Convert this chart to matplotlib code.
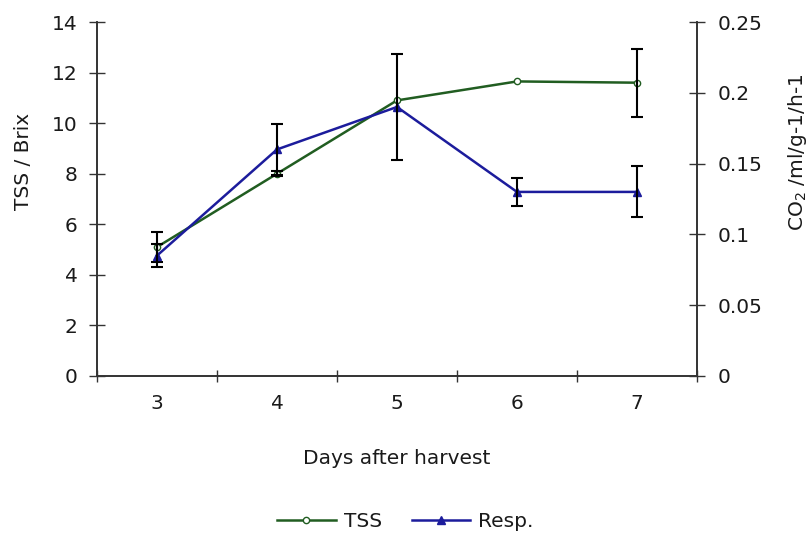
import matplotlib
matplotlib.use("Agg")
import matplotlib.pyplot as plt
import numpy as np
from matplotlib.ticker import FixedLocator

plt.rcParams["font.family"] = ["DejaVu Sans"]
plt.rcParams["mathtext.fontset"] = "dejavusans"

# data
days = [3, 4, 5, 6, 7]
tss = [5.1, 8.0, 10.9, 11.65, 11.6]
tss_err = [0.6, 0.1, 0.0, 0.0, 1.35]
resp = [0.085, 0.16, 0.19, 0.13, 0.13]
resp_err = [0.008, 0.018, 0.0375, 0.01, 0.018]

left_ticks = [0, 2, 4, 6, 8, 10, 12, 14]
right_ticks = [0, 0.05, 0.1, 0.15, 0.2, 0.25]
right_labels = ["0", "0.05", "0.1", "0.15", "0.2", "0.25"]

TXT = "#1a1a1a"
GREEN = "#215d21"
BLUE = "#1c1c9c"
FS = 14.5

fig = plt.figure(figsize=(8.11, 5.33), dpi=100)
ax = fig.add_axes([0.1196, 0.2946, 0.7398, 0.6641])
ax2 = ax.twinx()

x = np.arange(len(days))

ax.plot(x, tss, color=GREEN, lw=1.8, marker="o", ms=4.5,
        mfc="white", mec=GREEN, mew=1.0, label="TSS", zorder=3)
ax2.plot(x, resp, color=BLUE, lw=1.8, marker="^", ms=6,
         mfc=BLUE, mec=BLUE, label="Resp.", zorder=3)

# error bars only where there is a visible spread
tss_err = np.array(tss_err)
m = tss_err > 0
ax.errorbar(x[m], np.array(tss)[m], yerr=tss_err[m], fmt="none",
            ecolor="black", elinewidth=1.5, capsize=4.5, capthick=1.5, zorder=4)
ax2.errorbar(x, resp, yerr=resp_err, fmt="none",
             ecolor="black", elinewidth=1.5, capsize=4.5, capthick=1.5, zorder=4)

ax.set_xlim(-0.5, len(days) - 0.5)
ax.set_ylim(0, 14)
ax2.set_ylim(0, 0.25)

ax.set_yticks(left_ticks)
ax.set_yticklabels([str(t) for t in left_ticks])
ax2.set_yticks(right_ticks)
ax2.set_yticklabels(right_labels)

ax.set_xticks(x)
ax.set_xticklabels([str(d) for d in days])
ax.xaxis.set_minor_locator(FixedLocator(np.arange(-0.5, len(days), 1.0)))

ax.tick_params(axis="x", which="major", length=0, pad=13, labelsize=FS, labelcolor=TXT)
ax.tick_params(axis="x", which="minor", direction="inout", length=8, width=1.0, color="#333333")
ax.tick_params(axis="y", direction="inout", length=12, width=1.0, color="#333333",
               labelsize=FS, labelcolor=TXT, pad=8)
ax2.tick_params(axis="y", direction="inout", length=12, width=1.0, color="#333333",
                labelsize=FS, labelcolor=TXT, pad=9)

for a in (ax, ax2):
    a.spines["top"].set_visible(False)
    for s in ("left", "right", "bottom"):
        a.spines[s].set_color("#333333")
        a.spines[s].set_linewidth(1.2)

ax.set_xlabel("Days after harvest", fontsize=FS, color=TXT)
ax.xaxis.set_label_coords(0.5, -0.205)
ax.set_ylabel("TSS / Brix", fontsize=FS, color=TXT)
ax.yaxis.set_label_coords(-0.107, 0.605)
ax2.set_ylabel("CO$_2$ /ml/g-1/h-1", fontsize=FS, color=TXT)
ax2.yaxis.set_label_coords(1.148, 0.633)

h1, l1 = ax.get_legend_handles_labels()
h2, l2 = ax2.get_legend_handles_labels()
fig.legend(h1 + h2, l1 + l2, loc="center", bbox_to_anchor=(0.5, 0.022),
           ncol=2, frameon=False, fontsize=FS, handlelength=2.9,
           columnspacing=1.5, handletextpad=0.4, labelcolor=TXT)

fig.savefig("out.png", dpi=100)
